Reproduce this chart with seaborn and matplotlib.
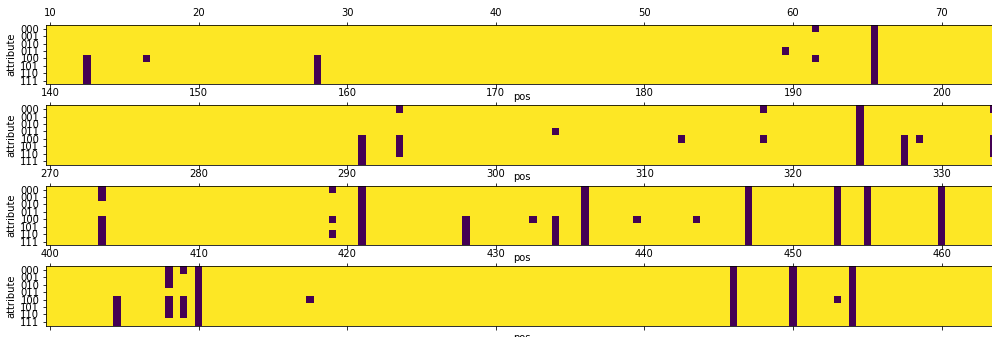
import matplotlib
matplotlib.use("Agg")
import matplotlib.pyplot as plt
import numpy as np
import pandas as pd
import seaborn as sns

attributes = ["000", "001", "010", "011", "100", "101", "110", "111"]
panel_starts = [10, 140, 270, 400]
n_cols = 128  # half-step positions shown per panel

ALL = list(range(8))
LOW = [4, 5, 6, 7]

# cells with value 0 (dark): (column index, attribute rows)
dark_panel1 = [(5, LOW), (13, [4]), (36, LOW), (99, [3]), (103, [0, 4]), (111, ALL)]
dark_panel2 = [(42, LOW), (47, [0, 4, 5, 6]), (68, [3]), (85, [4]), (96, [0, 4]),
               (109, ALL), (115, LOW), (117, [4]), (127, [0, 4, 5, 6])]
dark_panel3 = [(7, [0, 1, 4, 5, 6, 7]), (38, [0, 4, 6]), (42, ALL), (56, LOW), (65, [4]),
               (68, LOW), (72, ALL), (79, [4]), (87, [4]), (94, ALL), (106, ALL),
               (110, ALL), (120, ALL)]
dark_panel4 = [(9, LOW), (16, [0, 1, 2, 4, 5, 6]), (18, [0, 4, 5, 6]), (20, ALL),
               (35, [4]), (92, ALL), (100, ALL), (106, [4]), (108, ALL)]

panels = [dark_panel1, dark_panel2, dark_panel3, dark_panel4]

W, H = 992, 337
fig = plt.figure(figsize=(W / 72, H / 72), dpi=72)

cell = 7.43
left_px = 46.3
for i, (start, dark) in enumerate(zip(panel_starts, panels)):
    mat = np.ones((8, n_cols))
    for c, rows in dark:
        mat[rows, c] = 0
    df = pd.DataFrame(mat, index=attributes, columns=[start + c / 2 for c in range(n_cols)])

    top_px = 25 + 80.4 * i
    h_px = 8 * cell
    ax = fig.add_axes([left_px / W, 1 - (top_px + h_px) / H, n_cols * cell / W, h_px / H])
    sns.heatmap(df, ax=ax, cmap="viridis", vmin=0, vmax=1, cbar=False,
                xticklabels=False, yticklabels=False)

    tick_cols = list(range(0, n_cols, 20))
    ax.set_xticks([c + 0.5 for c in tick_cols])
    ax.set_xticklabels([str(int(start + c / 2)) for c in tick_cols], rotation=0)
    ax.set_yticks([r + 0.5 for r in range(8)])
    ax.set_yticklabels(attributes, rotation=0)
    ax.tick_params(axis="x", top=True, bottom=True, labeltop=True, labelbottom=False)
    ax.xaxis.set_label_position("bottom")
    ax.set_xlabel("pos")
    ax.set_ylabel("attribute")
    for s in ax.spines.values():
        s.set_visible(True)
        s.set_linewidth(0.8)

fig.savefig("out.png", dpi=72)
